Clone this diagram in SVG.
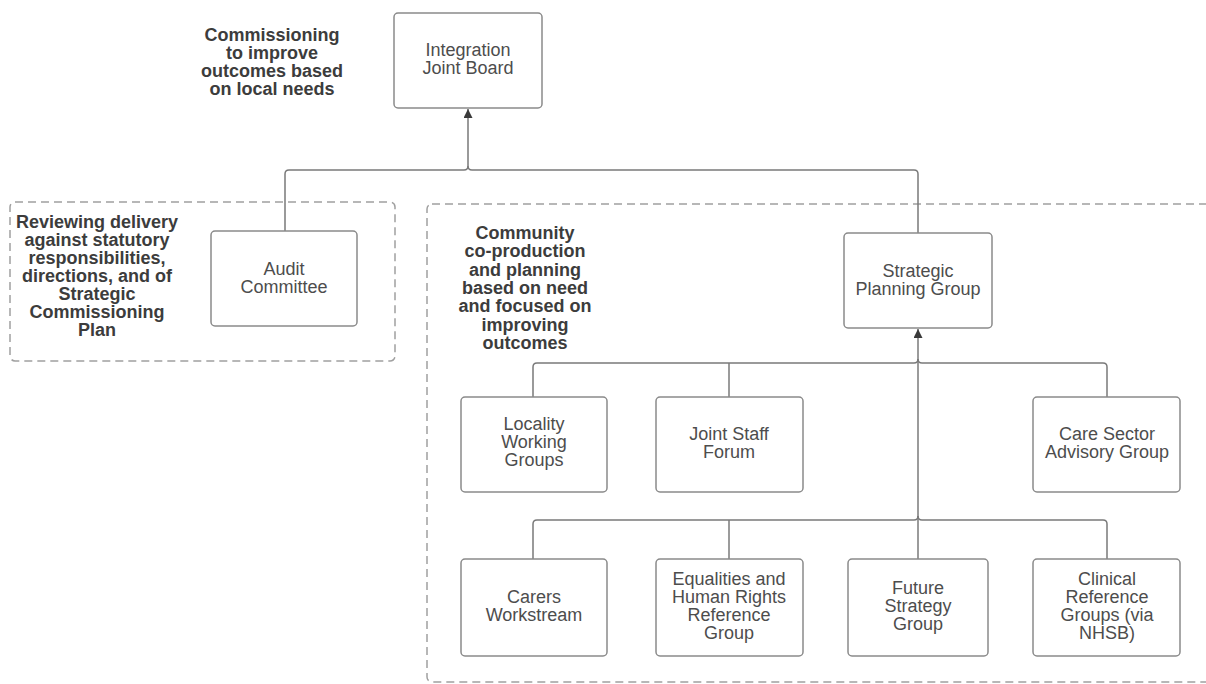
<svg xmlns="http://www.w3.org/2000/svg" width="1206" height="684" viewBox="0 0 1206 684">
<defs>
<style>
.box{fill:#fff;stroke:#8a8a8a;stroke-width:1.5}
.grp{fill:none;stroke:#a0a0a0;stroke-width:1.5;stroke-dasharray:8 5}
.lbl{font-family:"Liberation Sans",Arial,sans-serif;font-size:18px;fill:#4d4d4d;text-anchor:middle}
.note{font-family:"Liberation Sans",Arial,sans-serif;font-size:18px;font-weight:bold;fill:#3c3c3c;text-anchor:middle}
.con{fill:none;stroke:#7a7a7a;stroke-width:1.5}
</style>
<marker id="arr" viewBox="0 0 10 10" refX="10" refY="5" markerWidth="10" markerHeight="9" markerUnits="userSpaceOnUse" orient="auto">
<path d="M0,0 L10,5 L0,10 Z" fill="#3a3a3a"/>
</marker>
</defs>
<rect width="1206" height="684" fill="#fff"/>

<g id="group-audit">
<rect class="grp" x="10" y="202" width="385" height="159" rx="5"/>
<text class="note" x="97" y="228"><tspan x="97">Reviewing delivery</tspan><tspan x="97" dy="18">against statutory</tspan><tspan x="97" dy="18">responsibilities,</tspan><tspan x="97" dy="18">directions, and of</tspan><tspan x="97" dy="18">Strategic</tspan><tspan x="97" dy="18">Commissioning</tspan><tspan x="97" dy="18">Plan</tspan></text>
</g>
<g id="group-community">
<rect class="grp" x="427" y="204" width="800" height="478" rx="5"/>
<text class="note" x="525" y="239"><tspan x="525">Community</tspan><tspan x="525" dy="18.3">co-production</tspan><tspan x="525" dy="18.3">and planning</tspan><tspan x="525" dy="18.3">based on need</tspan><tspan x="525" dy="18.3">and focused on</tspan><tspan x="525" dy="18.3">improving</tspan><tspan x="525" dy="18.3">outcomes</tspan></text>
</g>
<g id="note-commissioning">
<text class="note" x="272" y="41"><tspan x="272">Commissioning</tspan><tspan x="272" dy="18">to improve</tspan><tspan x="272" dy="18">outcomes based</tspan><tspan x="272" dy="18">on local needs</tspan></text>
</g>

<g id="connectors">
<path class="con" d="M285,231 V174 Q285,170 289,170 H464 Q468,170 468,166 V109" marker-end="url(#arr)"/>
<path class="con" d="M918,233 V174 Q918,170 914,170 H472 Q468,170 468,166"/>
<path class="con" d="M918,559 V329" marker-end="url(#arr)"/>
<path class="con" d="M533,397 V367 Q533,363 537,363 H914 Q918,363 918,359"/>
<path class="con" d="M729,397 V363"/>
<path class="con" d="M1107,397 V367 Q1107,363 1103,363 H922 Q918,363 918,359"/>
<path class="con" d="M533,559 V524 Q533,520 537,520 H914 Q918,520 918,516"/>
<path class="con" d="M729,559 V520"/>
<path class="con" d="M1107,559 V524 Q1107,520 1103,520 H922 Q918,520 918,516"/>
</g>

<g id="ijb">
<rect class="box" x="394" y="13" width="148" height="95" rx="4"/>
<text class="lbl" x="468" y="56"><tspan x="468">Integration</tspan><tspan x="468" dy="18">Joint Board</tspan></text>
</g>
<g id="audit">
<rect class="box" x="211" y="231" width="146" height="95" rx="4"/>
<text class="lbl" x="284" y="275"><tspan x="284">Audit</tspan><tspan x="284" dy="18">Committee</tspan></text>
</g>
<g id="spg">
<rect class="box" x="844" y="233" width="148" height="95" rx="4"/>
<text class="lbl" x="918" y="277"><tspan x="918">Strategic</tspan><tspan x="918" dy="18">Planning Group</tspan></text>
</g>
<g id="locality">
<rect class="box" x="461" y="397" width="146" height="95" rx="4"/>
<text class="lbl" x="534" y="430"><tspan x="534">Locality</tspan><tspan x="534" dy="18">Working</tspan><tspan x="534" dy="18">Groups</tspan></text>
</g>
<g id="jsf">
<rect class="box" x="656" y="397" width="147" height="95" rx="4"/>
<text class="lbl" x="729" y="440"><tspan x="729">Joint Staff</tspan><tspan x="729" dy="18">Forum</tspan></text>
</g>
<g id="care-sector">
<rect class="box" x="1033" y="397" width="147" height="95" rx="4"/>
<text class="lbl" x="1107" y="440"><tspan x="1107">Care Sector</tspan><tspan x="1107" dy="18">Advisory Group</tspan></text>
</g>
<g id="carers">
<rect class="box" x="461" y="559" width="146" height="97" rx="4"/>
<text class="lbl" x="534" y="603"><tspan x="534">Carers</tspan><tspan x="534" dy="18">Workstream</tspan></text>
</g>
<g id="equalities">
<rect class="box" x="656" y="559" width="147" height="97" rx="4"/>
<text class="lbl" x="729" y="585"><tspan x="729">Equalities and</tspan><tspan x="729" dy="18">Human Rights</tspan><tspan x="729" dy="18">Reference</tspan><tspan x="729" dy="18">Group</tspan></text>
</g>
<g id="future">
<rect class="box" x="848" y="559" width="140" height="97" rx="4"/>
<text class="lbl" x="918" y="594"><tspan x="918">Future</tspan><tspan x="918" dy="18">Strategy</tspan><tspan x="918" dy="18">Group</tspan></text>
</g>
<g id="clinical">
<rect class="box" x="1033" y="559" width="147" height="97" rx="4"/>
<text class="lbl" x="1107" y="585"><tspan x="1107">Clinical</tspan><tspan x="1107" dy="18">Reference</tspan><tspan x="1107" dy="18">Groups (via</tspan><tspan x="1107" dy="18">NHSB)</tspan></text>
</g>
</svg>
